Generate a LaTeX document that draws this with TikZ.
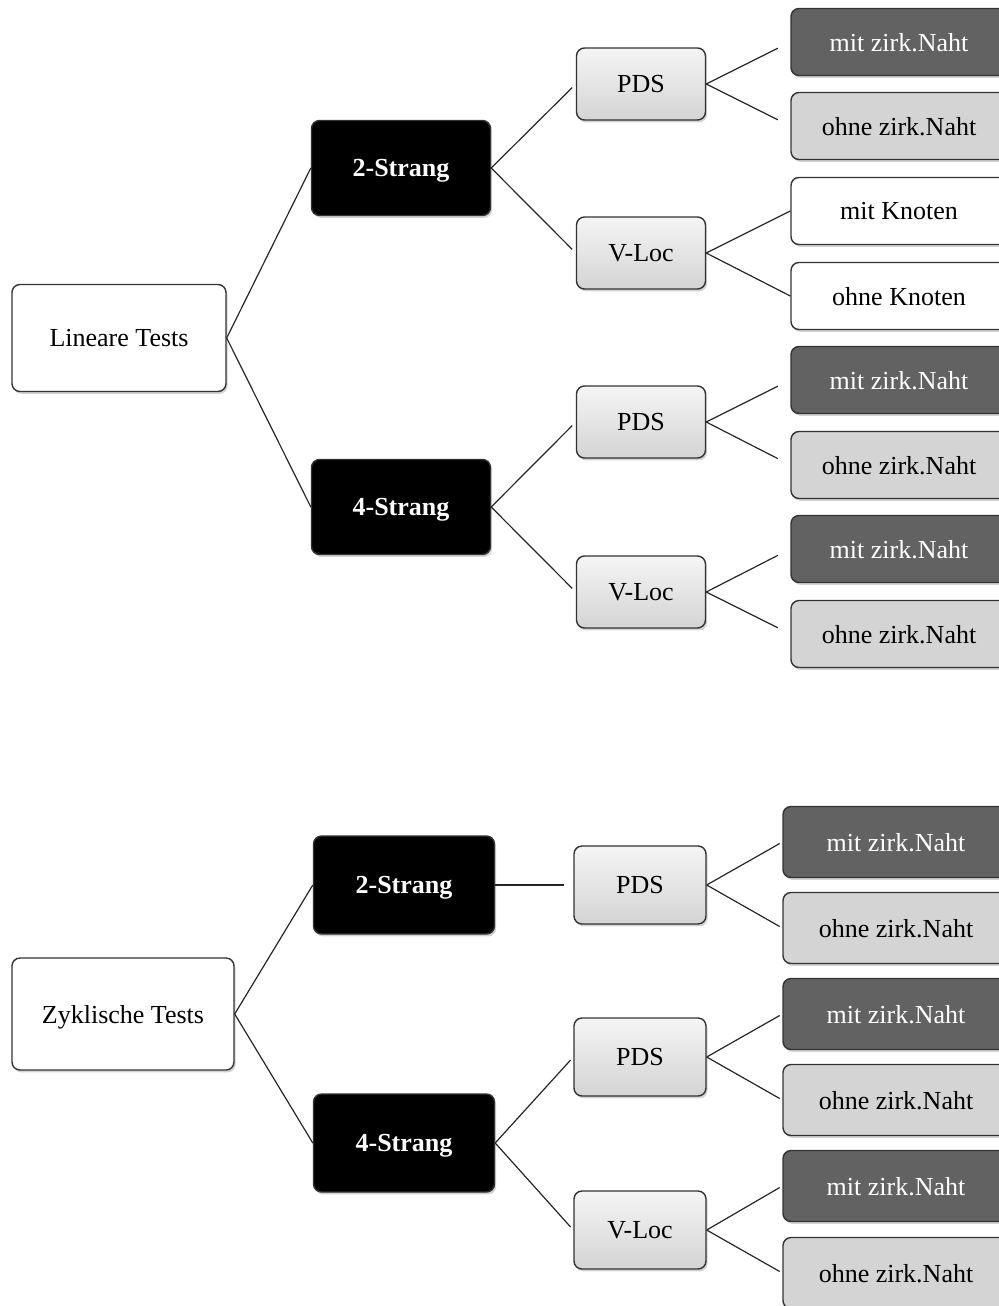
\documentclass[tikz,border=0pt]{standalone}
\usepackage{xcolor}
\usepackage{fontspec}
\setmainfont{Liberation Serif}
\usepackage{tikz}
\usetikzlibrary{shadows, positioning}
\definecolor{leafdark}{HTML}{626262}
\definecolor{leaflight}{HTML}{D4D4D4}
\tikzstyle{box} = [rectangle, rounded corners=4pt, text centered, text depth=0pt, draw=black!80, line width=0.7pt, font=\fontsize{13}{15}\selectfont, drop shadow={opacity=0.35, shadow xshift=0.8pt, shadow yshift=-1.2pt}]
\tikzstyle{root} = [box, fill=white, minimum width=107pt, minimum height=53.5pt]
\tikzstyle{strang} = [box, fill=black, text=white, font=\fontsize{13}{15}\selectfont\bfseries, minimum width=89.5pt, minimum height=47.5pt]
\tikzstyle{method} = [box, top color=black!4, bottom color=black!17, minimum width=64.5pt, minimum height=36pt]
\tikzstyle{darkleaf} = [box, fill=leafdark, text=white, minimum width=108pt, minimum height=33.5pt]
\tikzstyle{lightleaf} = [box, fill=leaflight, minimum width=108pt, minimum height=33.5pt]
\tikzstyle{whiteleaf} = [box, fill=white, minimum width=108pt, minimum height=33.5pt]
\tikzstyle{link} = [line width=0.6pt, draw=black!85]

\begin{document}
\begin{tikzpicture}[x=0.5pt, y=-0.5pt]
    \useasboundingbox (0,0) rectangle (999,1306);
    \clip (0,0) rectangle (999,1306);

    % lineare Tests
    \node (lin) [root] at (119,338) {Lineare Tests};
    \node (linA) [strang] at (401,168) {2-Strang};
    \node (linB) [strang] at (401,507) {4-Strang};
    \node (linApds) [method] at (641,84) {PDS};
    \node (linAvloc) [method] at (641,253) {V-Loc};
    \node (linBpds) [method] at (641,422) {PDS};
    \node (linBvloc) [method] at (641,592) {V-Loc};
    \node (leafA) [darkleaf] at (899,42) {mit zirk.Naht};
    \node (leafB) [lightleaf] at (899,126) {ohne zirk.Naht};
    \node (leafC) [whiteleaf] at (899,211) {mit Knoten};
    \node (leafD) [whiteleaf] at (899,296) {ohne Knoten};
    \node (leafE) [darkleaf] at (899,380) {mit zirk.Naht};
    \node (leafF) [lightleaf] at (899,465) {ohne zirk.Naht};
    \node (leafG) [darkleaf] at (899,549) {mit zirk.Naht};
    \node (leafH) [lightleaf] at (899,634) {ohne zirk.Naht};

    \draw [link] (lin.east) -- (linA.west);
    \draw [link] (lin.east) -- (linB.west);
    \draw [link, shorten >=2.5pt] (linA.east) -- (linApds.west);
    \draw [link, shorten >=2.5pt] (linA.east) -- (linAvloc.west);
    \draw [link, shorten >=2.5pt] (linB.east) -- (linBpds.west);
    \draw [link, shorten >=2.5pt] (linB.east) -- (linBvloc.west);
    \draw [link, shorten >=7pt] (linApds.east) -- (leafA.west);
    \draw [link, shorten >=7pt] (linApds.east) -- (leafB.west);
    \draw [link] (linAvloc.east) -- (leafC.west);
    \draw [link] (linAvloc.east) -- (leafD.west);
    \draw [link, shorten >=7pt] (linBpds.east) -- (leafE.west);
    \draw [link, shorten >=7pt] (linBpds.east) -- (leafF.west);
    \draw [link, shorten >=7pt] (linBvloc.east) -- (leafG.west);
    \draw [link, shorten >=7pt] (linBvloc.east) -- (leafH.west);

    % zyklische Tests
    \node (zyk) [root, minimum width=111pt, minimum height=56pt] at (123,1014) {Zyklische Tests};
    \node (zykA) [strang, minimum width=90.5pt, minimum height=49pt] at (404,885) {2-Strang};
    \node (zykB) [strang, minimum width=90.5pt, minimum height=49pt] at (404,1143) {4-Strang};
    \node (zykApds) [method, minimum width=66pt, minimum height=39pt] at (640,885) {PDS};
    \node (zykBpds) [method, minimum width=66pt, minimum height=39pt] at (640,1057) {PDS};
    \node (zykBvloc) [method, minimum width=66pt, minimum height=39pt] at (640,1230) {V-Loc};
    \node (leafI) [darkleaf, minimum width=113pt, minimum height=35.5pt] at (896,842) {mit zirk.Naht};
    \node (leafJ) [lightleaf, minimum width=113pt, minimum height=35.5pt] at (896,928) {ohne zirk.Naht};
    \node (leafK) [darkleaf, minimum width=113pt, minimum height=35.5pt] at (896,1014) {mit zirk.Naht};
    \node (leafL) [lightleaf, minimum width=113pt, minimum height=35.5pt] at (896,1100) {ohne zirk.Naht};
    \node (leafM) [darkleaf, minimum width=113pt, minimum height=35.5pt] at (896,1186) {mit zirk.Naht};
    \node (leafN) [lightleaf, minimum width=113pt, minimum height=35.5pt] at (896,1273) {ohne zirk.Naht};

    \draw [link] (zyk.east) -- (zykA.west);
    \draw [link] (zyk.east) -- (zykB.west);
    \draw [link, shorten >=4.5pt] (zykA.east) -- (zykApds.west);
    \draw [link, shorten >=2pt] (zykB.east) -- (zykBpds.west);
    \draw [link, shorten >=2pt] (zykB.east) -- (zykBvloc.west);
    \draw [link, shorten >=1.5pt] (zykApds.east) -- (leafI.west);
    \draw [link, shorten >=1.5pt] (zykApds.east) -- (leafJ.west);
    \draw [link, shorten >=1.5pt] (zykBpds.east) -- (leafK.west);
    \draw [link, shorten >=1.5pt] (zykBpds.east) -- (leafL.west);
    \draw [link, shorten >=1.5pt] (zykBvloc.east) -- (leafM.west);
    \draw [link, shorten >=1.5pt] (zykBvloc.east) -- (leafN.west);
\end{tikzpicture}
\end{document}
